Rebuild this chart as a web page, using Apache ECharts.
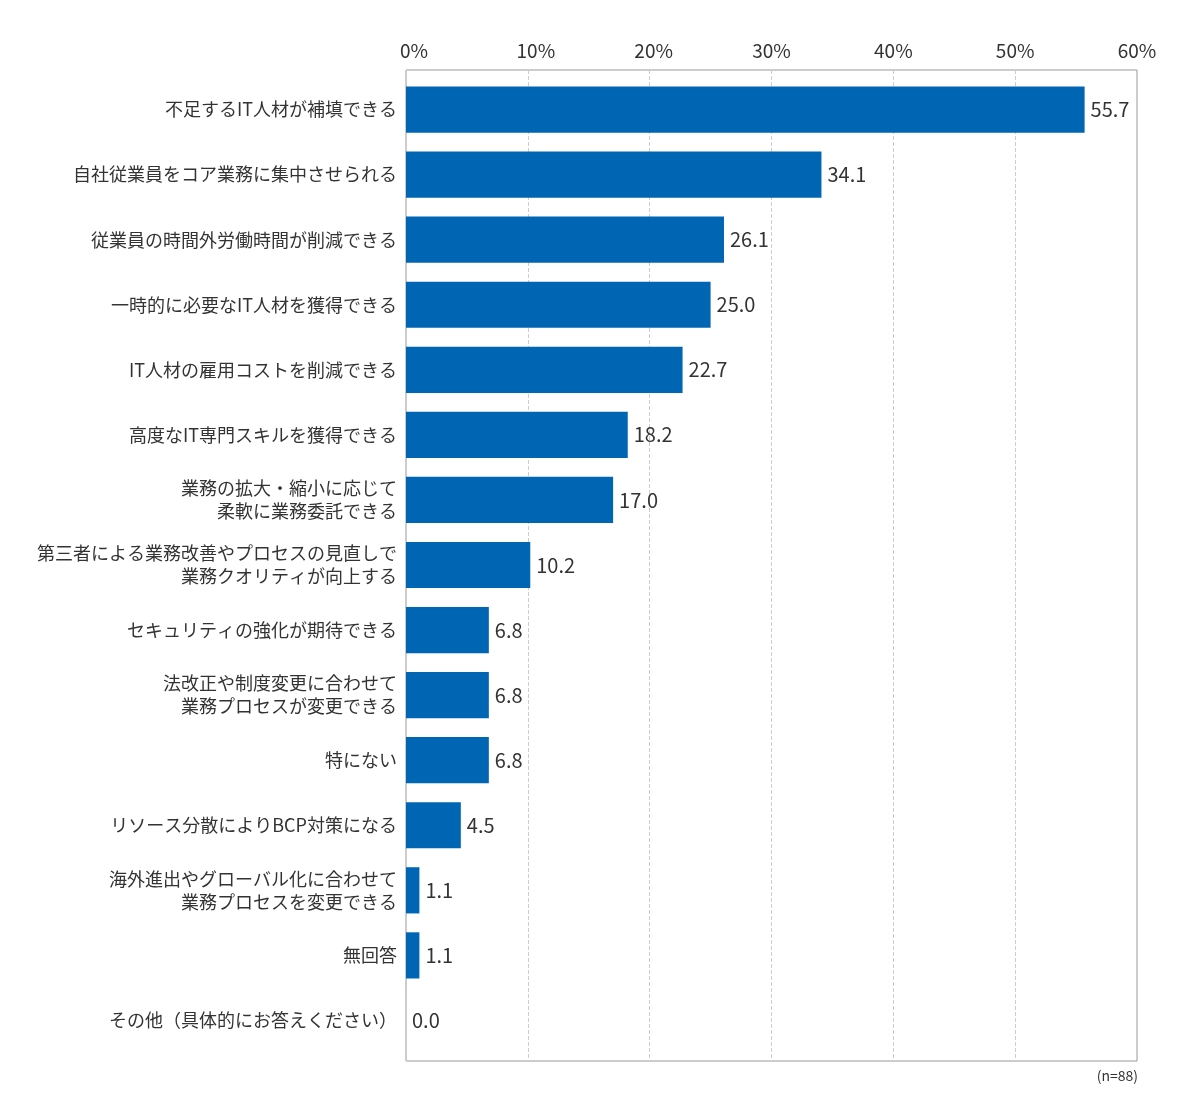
<!DOCTYPE html>
<html>
<head>
<meta charset="utf-8">
<script src="https://cdn.jsdelivr.net/npm/echarts@6/dist/echarts.min.js"></script>
<style>
html, body { margin: 0; padding: 0; background: #fff; }
#main { width: 1200px; height: 1120px; }
</style>
</head>
<body>
<div id="main"></div>
<script>
// 項目と割合(%)
var categories = [
	'不足するIT人材が補填できる',
	'自社従業員をコア業務に集中させられる',
	'従業員の時間外労働時間が削減できる',
	'一時的に必要なIT人材を獲得できる',
	'IT人材の雇用コストを削減できる',
	'高度なIT専門スキルを獲得できる',
	'業務の拡大・縮小に応じて\n柔軟に業務委託できる',
	'第三者による業務改善やプロセスの見直しで\n業務クオリティが向上する',
	'セキュリティの強化が期待できる',
	'法改正や制度変更に合わせて\n業務プロセスが変更できる',
	'特にない',
	'リソース分散によりBCP対策になる',
	'海外進出やグローバル化に合わせて\n業務プロセスを変更できる',
	'無回答',
	'その他（具体的にお答えください）'
];
var values = [55.7, 34.1, 26.1, 25.0, 22.7, 18.2, 17.0, 10.2, 6.8, 6.8, 6.8, 4.5, 1.1, 1.1, 0.0];
var xTicks = [0, 10, 20, 30, 40, 50, 60];
var note = '(n=88)';

var font = '"Noto Sans CJK JP", "Noto Sans", sans-serif';
var myChart = echarts.init(document.getElementById('main'));

var xMin = xTicks[0], xMax = xTicks[xTicks.length - 1];

myChart.setOption({
	backgroundColor: '#fff',
	textStyle: { fontFamily: font },
	grid: [
		// 棒を描く領域（枠の内側に少し余白）
		{ left: 406, right: 63, top: 77, bottom: 67 },
		// 枠と目盛り線
		{ left: 406, right: 63, top: 70, bottom: 59, show: true, borderColor: '#999', borderWidth: 1 }
	],
	graphic: [{
		type: 'text', right: 62, top: 1069,
		style: { text: note, fontSize: 14, fill: '#333', fontFamily: font }
	}],
	xAxis: [{
		type: 'value', gridIndex: 0,
		min: xMin, max: xMax, interval: 10,
		show: false
	}, {
		type: 'value', gridIndex: 1,
		position: 'top',
		min: xMin, max: xMax, interval: 10,
		axisLine: { show: false },
		axisTick: { show: false },
		axisLabel: {
			// 左側の目盛りは少し右寄り
			formatter: function (v) {
				if (v <= 10) return '{s|' + v + '%}';
				if (v <= 20) return '{m|' + v + '%}';
				return v + '%';
			},
			rich: {
				s: { fontSize: 19, color: '#333', padding: [0, 0, 0, 16], fontFamily: font },
				m: { fontSize: 19, color: '#333', padding: [0, 0, 0, 8], fontFamily: font }
			},
			fontSize: 19, color: '#333', margin: 10, fontFamily: font
		},
		splitLine: { lineStyle: { type: 'dashed', color: '#ccc', width: 1 } }
	}],
	yAxis: [{
		type: 'category', gridIndex: 0,
		data: categories,
		inverse: true,
		axisLine: { show: false },
		axisTick: { show: false },
		axisLabel: {
			fontSize: 18, color: '#333', margin: 9, lineHeight: 23, fontFamily: font
		}
	}, {
		type: 'value', gridIndex: 1,
		min: 0, max: 1,
		axisLine: { show: false },
		axisTick: { show: false },
		axisLabel: { show: false },
		splitLine: { show: false }
	}],
	series: [{
		type: 'bar',
		xAxisIndex: 0, yAxisIndex: 0,
		data: values,
		barCategoryGap: '29%',
		itemStyle: { color: '#0066b3' },
		label: {
			show: true, position: 'right', distance: 6,
			fontSize: 20, color: '#333', fontFamily: font,
			formatter: function (p) { return p.value.toFixed(1); }
		}
	}]
});
</script>
</body>
</html>
